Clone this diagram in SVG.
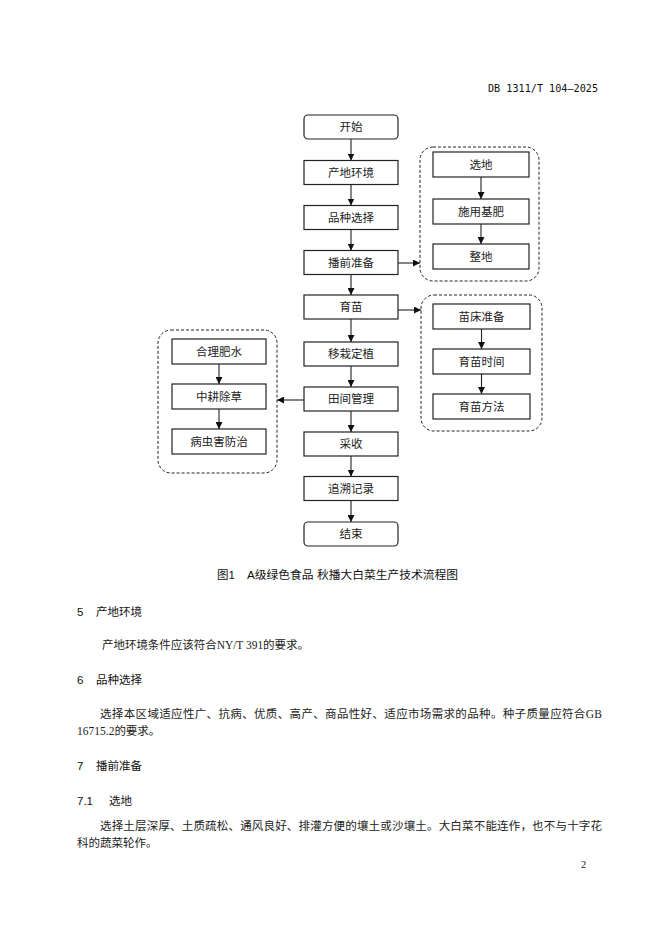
<svg xmlns="http://www.w3.org/2000/svg" width="662" height="936" viewBox="0 0 662 936">
<defs>
<style>
.bx{fill:#fff;stroke:#222;stroke-width:1.2}
.grp{fill:none;stroke:#222;stroke-width:1;stroke-dasharray:3 2}
.lbl{font-family:"Liberation Serif","Noto Sans CJK SC",serif;font-size:11.5px;fill:#222;text-anchor:middle;dominant-baseline:central}
.ln{stroke:#222;stroke-width:1.1;fill:none;marker-end:url(#ah)}
.hd{font-family:"Liberation Sans","Noto Sans CJK SC",sans-serif;font-size:11.5px;fill:#111;dominant-baseline:central}
.bd{font-family:"Liberation Serif","Noto Sans CJK SC",serif;font-size:11.5px;fill:#222;dominant-baseline:central}
</style>
<marker id="ah" viewBox="0 0 8 8" refX="8" refY="4" markerWidth="7" markerHeight="7" markerUnits="userSpaceOnUse" orient="auto">
<path d="M0,0 L8,4 L0,8 z" fill="#111"/>
</marker>
</defs>
<rect width="662" height="936" fill="#fff"/>
<text x="598" y="88" class="hd" text-anchor="end" style="font-family:'DejaVu Sans Mono',monospace;font-size:10px" textLength="110" lengthAdjust="spacingAndGlyphs">DB 1311/T 104—2025</text>

<g id="connectors">
<line class="ln" x1="351" y1="139" x2="351" y2="160.5"/>
<line class="ln" x1="351" y1="184.5" x2="351" y2="205.5"/>
<line class="ln" x1="351" y1="229.5" x2="351" y2="250.5"/>
<line class="ln" x1="351" y1="274.5" x2="351" y2="295"/>
<line class="ln" x1="351" y1="319" x2="351" y2="342"/>
<line class="ln" x1="351" y1="366" x2="351" y2="387"/>
<line class="ln" x1="351" y1="411" x2="351" y2="432"/>
<line class="ln" x1="351" y1="456" x2="351" y2="476.5"/>
<line class="ln" x1="351" y1="500.5" x2="351" y2="522"/>
<line class="ln" x1="398" y1="263" x2="420" y2="263"/>
<line class="ln" x1="398" y1="310" x2="421" y2="310"/>
<line class="ln" x1="304" y1="400" x2="277" y2="400"/>
<line class="ln" x1="481" y1="177" x2="481" y2="199"/>
<line class="ln" x1="481" y1="224" x2="481" y2="244"/>
<line class="ln" x1="481.5" y1="329" x2="481.5" y2="349"/>
<line class="ln" x1="481.5" y1="374" x2="481.5" y2="394"/>
<line class="ln" x1="219" y1="364" x2="219" y2="384"/>
<line class="ln" x1="219" y1="409" x2="219" y2="429"/>
</g>

<g id="n-start"><rect class="bx" x="304" y="115" width="94" height="24" rx="4"/><text class="lbl" x="351" y="127">开始</text></g>
<g id="n-env"><rect class="bx" x="304" y="160.5" width="94" height="24"/><text class="lbl" x="351" y="172.5">产地环境</text></g>
<g id="n-variety"><rect class="bx" x="304" y="205.5" width="94" height="24"/><text class="lbl" x="351" y="217.5">品种选择</text></g>
<g id="n-prep"><rect class="bx" x="304" y="250.5" width="94" height="24"/><text class="lbl" x="351" y="262.5">播前准备</text></g>
<g id="n-seedling"><rect class="bx" x="304" y="295" width="94" height="24"/><text class="lbl" x="351" y="307">育苗</text></g>
<g id="n-transplant"><rect class="bx" x="304" y="342" width="94" height="24"/><text class="lbl" x="351" y="354">移栽定植</text></g>
<g id="n-field"><rect class="bx" x="304" y="387" width="94" height="24"/><text class="lbl" x="351" y="399">田间管理</text></g>
<g id="n-harvest"><rect class="bx" x="304" y="432" width="94" height="24"/><text class="lbl" x="351" y="444">采收</text></g>
<g id="n-trace"><rect class="bx" x="304" y="476.5" width="94" height="24"/><text class="lbl" x="351" y="488.5">追溯记录</text></g>
<g id="n-end"><rect class="bx" x="304" y="522" width="94" height="24" rx="4"/><text class="lbl" x="351" y="534">结束</text></g>

<g id="g-prep">
<rect class="grp" x="420" y="147" width="119" height="134" rx="13"/>
<g id="n-site"><rect class="bx" x="433" y="152" width="96" height="25"/><text class="lbl" x="481" y="164.5">选地</text></g>
<g id="n-fert"><rect class="bx" x="433" y="199" width="96" height="25"/><text class="lbl" x="481" y="211.5">施用基肥</text></g>
<g id="n-level"><rect class="bx" x="433" y="244" width="96" height="25"/><text class="lbl" x="481" y="256.5">整地</text></g>
</g>

<g id="g-seedling">
<rect class="grp" x="421" y="295" width="121" height="136" rx="13"/>
<g id="n-bed"><rect class="bx" x="433" y="304" width="97" height="25"/><text class="lbl" x="481.5" y="316.5">苗床准备</text></g>
<g id="n-time"><rect class="bx" x="433" y="349" width="97" height="25"/><text class="lbl" x="481.5" y="361.5">育苗时间</text></g>
<g id="n-method"><rect class="bx" x="433" y="394" width="97" height="25"/><text class="lbl" x="481.5" y="406.5">育苗方法</text></g>
</g>

<g id="g-field">
<rect class="grp" x="158" y="330" width="119" height="143" rx="13"/>
<g id="n-water"><rect class="bx" x="172" y="339" width="94" height="25"/><text class="lbl" x="219" y="351.5">合理肥水</text></g>
<g id="n-weed"><rect class="bx" x="172" y="384" width="94" height="25"/><text class="lbl" x="219" y="396.5">中耕除草</text></g>
<g id="n-pest"><rect class="bx" x="172" y="429" width="94" height="25"/><text class="lbl" x="219" y="441.5">病虫害防治</text></g>
</g>

<text class="hd" x="217" y="575">图1</text>
<text class="hd" x="247" y="575" textLength="211" lengthAdjust="spacingAndGlyphs">A级绿色食品 秋播大白菜生产技术流程图</text>

<text class="hd" x="77" y="612">5</text><text class="hd" x="96" y="612">产地环境</text>
<text class="bd" x="102" y="645" textLength="207" lengthAdjust="spacing">产地环境条件应该符合NY/T 391的要求。</text>
<text class="hd" x="77" y="680">6</text><text class="hd" x="96" y="680">品种选择</text>
<text class="bd" x="100" y="714" textLength="502" lengthAdjust="spacing">选择本区域适应性广、抗病、优质、高产、商品性好、适应市场需求的品种。种子质量应符合GB</text>
<text class="bd" x="77" y="731">16715.2的要求。</text>
<text class="hd" x="77" y="766">7</text><text class="hd" x="96" y="766">播前准备</text>
<text class="hd" x="77" y="801">7.1</text><text class="hd" x="109" y="801">选地</text>
<text class="bd" x="100" y="826" textLength="502" lengthAdjust="spacing">选择土层深厚、土质疏松、通风良好、排灌方便的壤土或沙壤土。大白菜不能连作，也不与十字花</text>
<text class="bd" x="77" y="843">科的蔬菜轮作。</text>
<text class="bd" x="581" y="864" style="font-size:10.5px">2</text>
</svg>
